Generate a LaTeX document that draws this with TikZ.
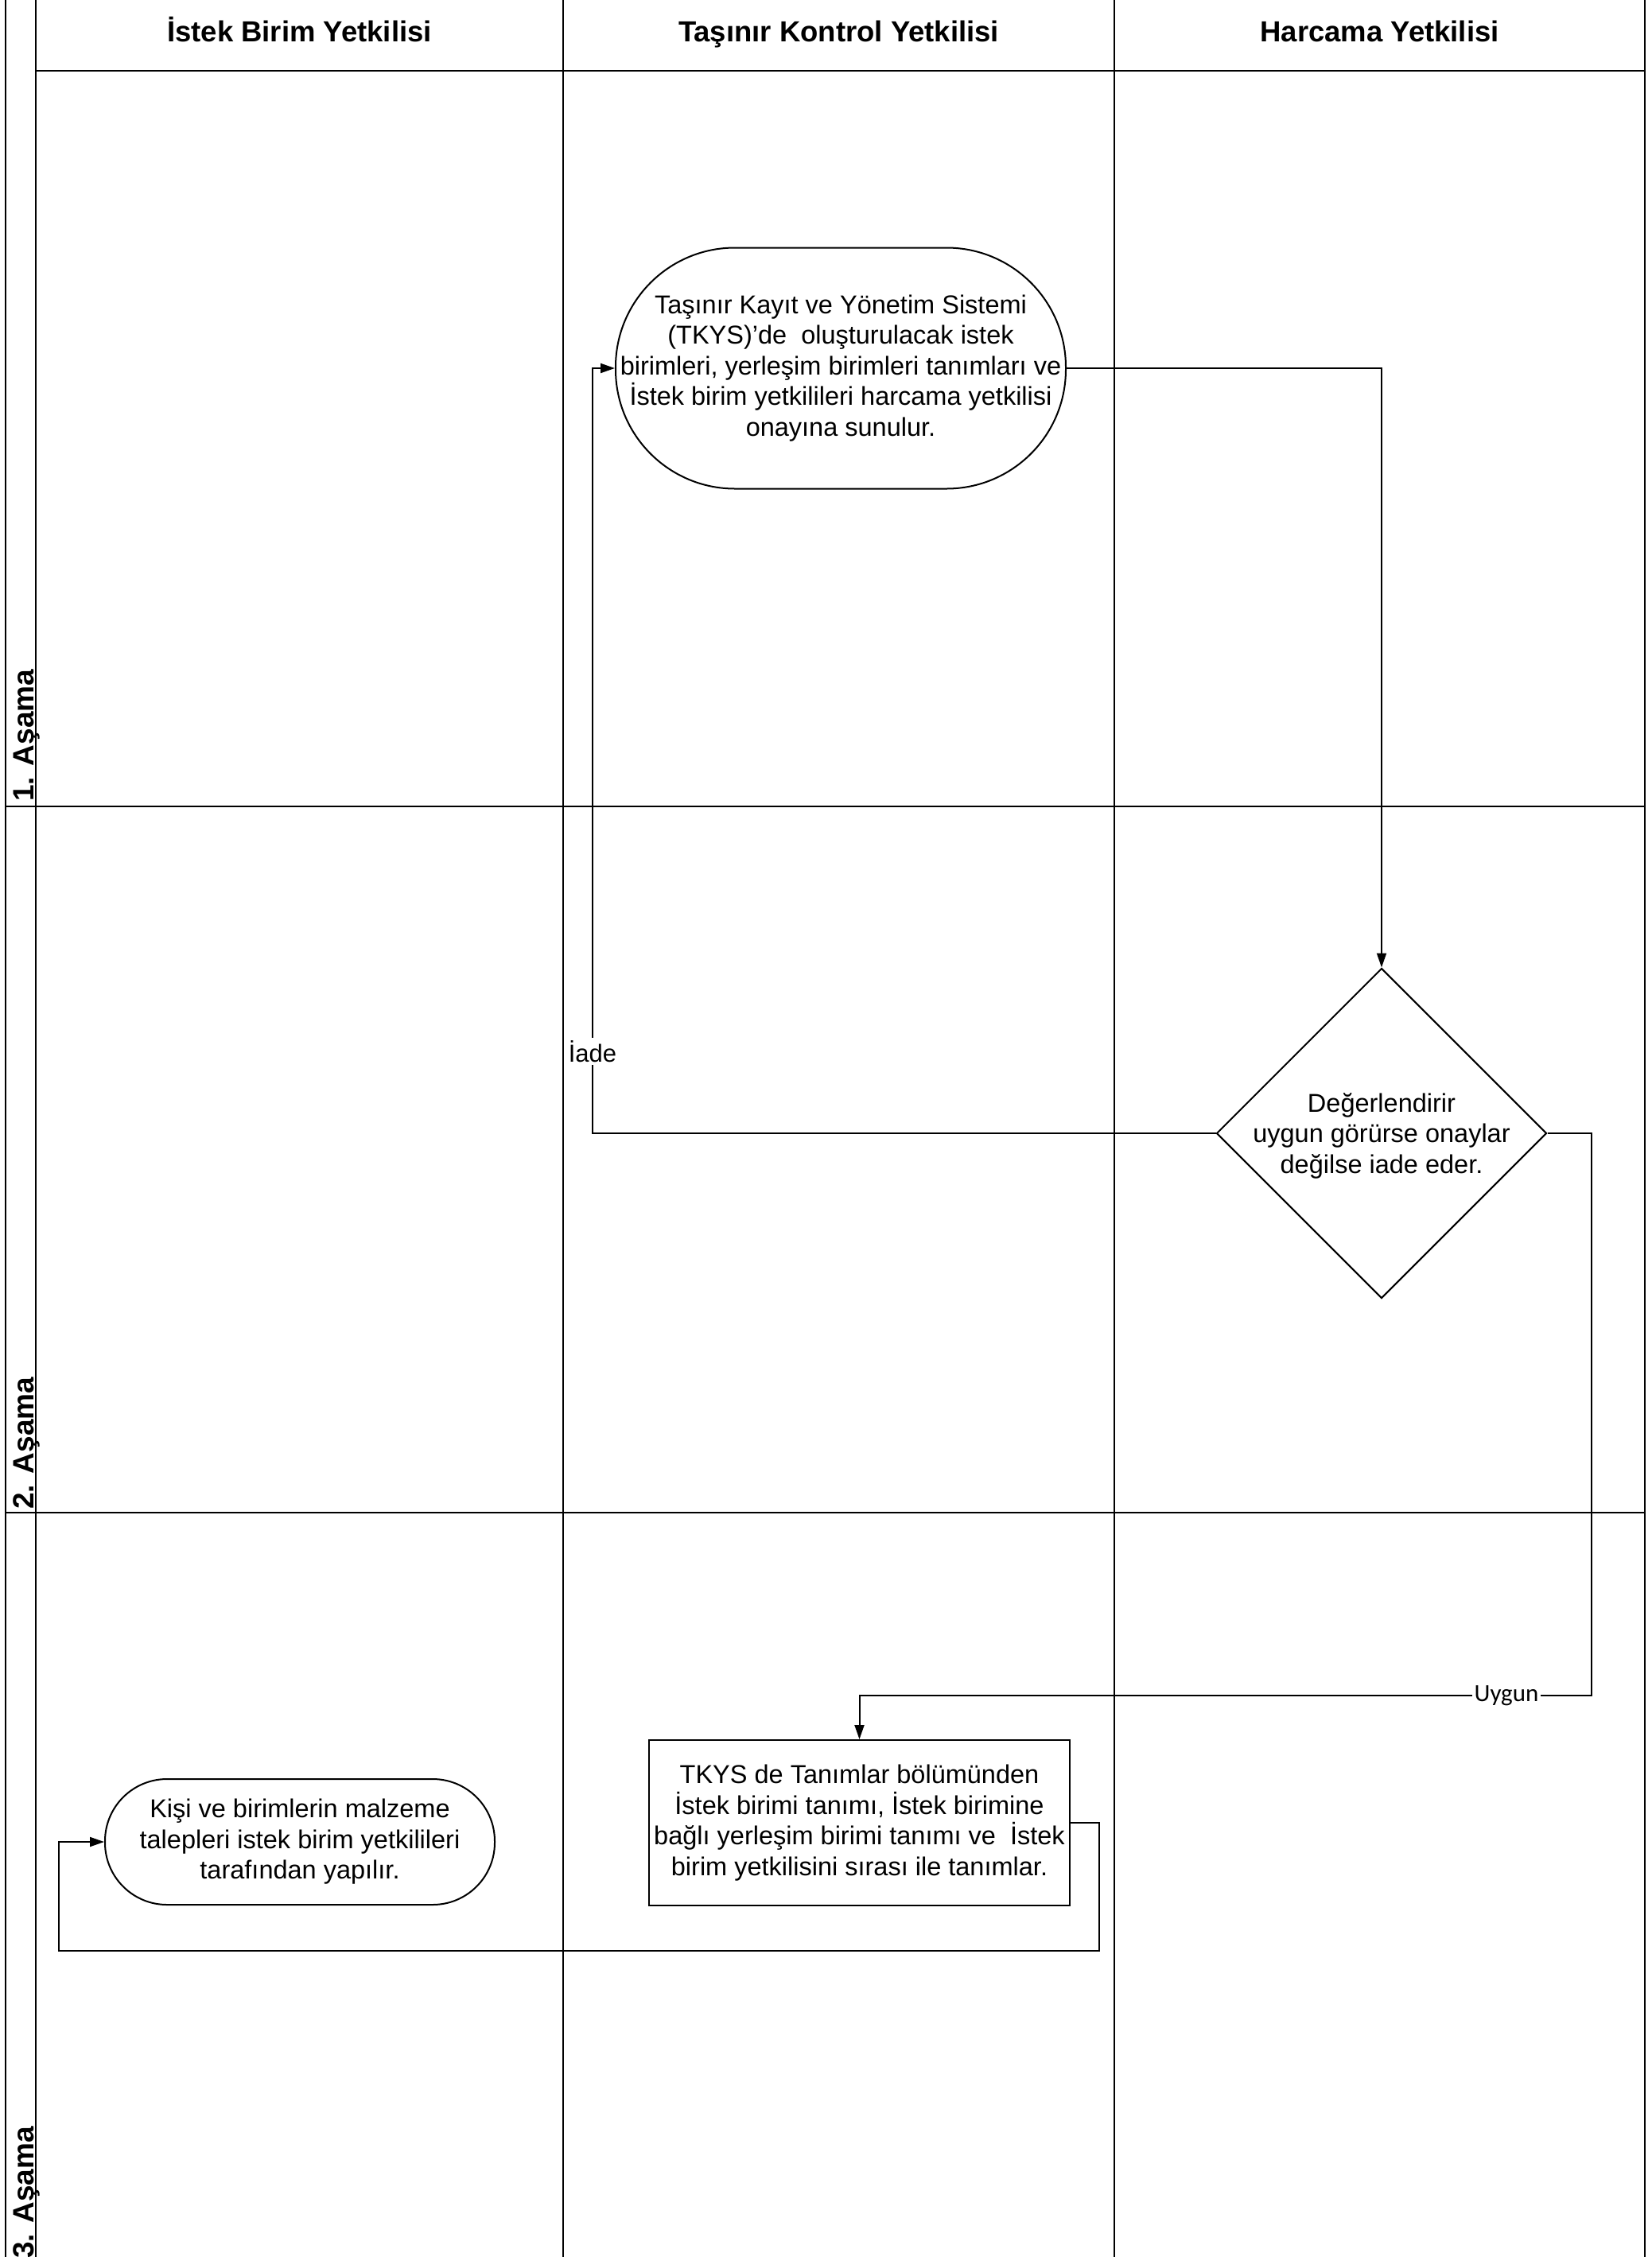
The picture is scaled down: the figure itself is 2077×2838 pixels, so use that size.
\documentclass[tikz,border=0pt]{standalone}
\usepackage{fontspec}
\setmainfont{Liberation Sans}
\newfontfamily\labelfont{Carlito}
\usetikzlibrary{shapes.geometric,arrows.meta}

\begin{document}
\begin{tikzpicture}[x=1pt,y=-1pt,
  frame/.style={line width=2pt},
  divider/.style={line width=1.2pt},
  head/.style={font=\fontsize{36.5}{42}\selectfont\bfseries, inner sep=0pt, anchor=base},
  phase/.style={font=\fontsize{37}{42}\selectfont\bfseries, rotate=90, anchor=base west, inner sep=0pt},
  txt/.style={align=center, font=\fontsize{32.5}{38.5}\selectfont, inner sep=0pt},
  term/.style={draw, line width=2pt, rounded corners=#1, txt},
  proc/.style={draw, line width=2pt, txt, minimum width=529pt, minimum height=208pt},
  dec/.style={draw, diamond, aspect=1, line width=2pt, minimum size=415pt, inner sep=0pt},
  flow/.style={line width=2pt, -{Triangle[length=18pt,width=12pt]}},
  lbl/.style={fill=white, inner sep=3pt, font=\fontsize{31}{36}\selectfont},
]
% page
\fill[white] (0,0) rectangle (2077,2838);
\useasboundingbox (0,0) rectangle (2077,2838);

% swimlane grid
\draw[frame] (7,0) -- (7,2838);
\draw[frame] (45,0) -- (45,2838);
\draw[frame] (2068,0) -- (2068,2838);
\draw[divider] (708,0) -- (708,2838);
\draw[divider] (1401,0) -- (1401,2838);
\draw[frame] (45,89) -- (2068,89);
\draw[frame] (7,1014) -- (2068,1014);
\draw[frame] (7,1902) -- (2068,1902);

% column headers
\node[head] (h1) at (376.5,52) {İstek Birim Yetkilisi};
\node[head] (h2) at (1054.5,52) {Taşınır Kontrol Yetkilisi};
\node[head] (h3) at (1734.5,52) {Harcama Yetkilisi};

% phase labels
\node[phase] (p1) at (42,1008) {1. Aşama};
\node[phase] (p2) at (42,1898) {2. Aşama};
\node[phase] (p3) at (42,2840) {3. Aşama};

% steps
\node[term=150pt, minimum width=566pt, minimum height=303pt] (n1) at (1057,463)
  {Taşınır Kayıt ve Yönetim Sistemi\\(TKYS)’de\ \ oluşturulacak istek\\birimleri, yerleşim birimleri tanımları ve\\İstek birim yetkilileri harcama yetkilisi\\onayına sunulur.};
\node[dec] (n2) at (1737,1425) {};
\node[txt] (n2t) at ([yshift=-3pt]n2.center) {Değerlendirir\\uygun görürse onaylar\\değilse iade eder.};
\node[proc] (n3) at (1080.5,2292)
  {TKYS de Tanımlar bölümünden\\İstek birimi tanımı, İstek birimine\\bağlı yerleşim birimi tanımı ve\ \ İstek\\birim yetkilisini sırası ile tanımlar.};
\node[term=78pt, minimum width=490pt, minimum height=158pt] (n4) at (377,2316)
  {Kişi ve birimlerin malzeme\\talepleri istek birim yetkilileri\\tarafından yapılır.};

% bend points
\coordinate (r1) at (745,1425);
\coordinate (c1) at (2001,2132);
\coordinate (c3) at (1382,2453);
\coordinate (c4) at (74,2316);

% connectors
\draw[flow] (n1.east) -| (n2.north);
\draw[flow] (n2.west) -- (r1) |- (n1.west);
\draw[flow] (n2.east) -| (c1) -| (n3.north);
\draw[flow] (n3.east) -| (c3) -| (c4) -- (n4.west);

% connector labels
\node[lbl] (iade) at (745,1322) {İade};
\node[lbl, font=\labelfont\fontsize{31}{36}\selectfont] (uygun) at (1894,2132) {Uygun};
\end{tikzpicture}
\end{document}
